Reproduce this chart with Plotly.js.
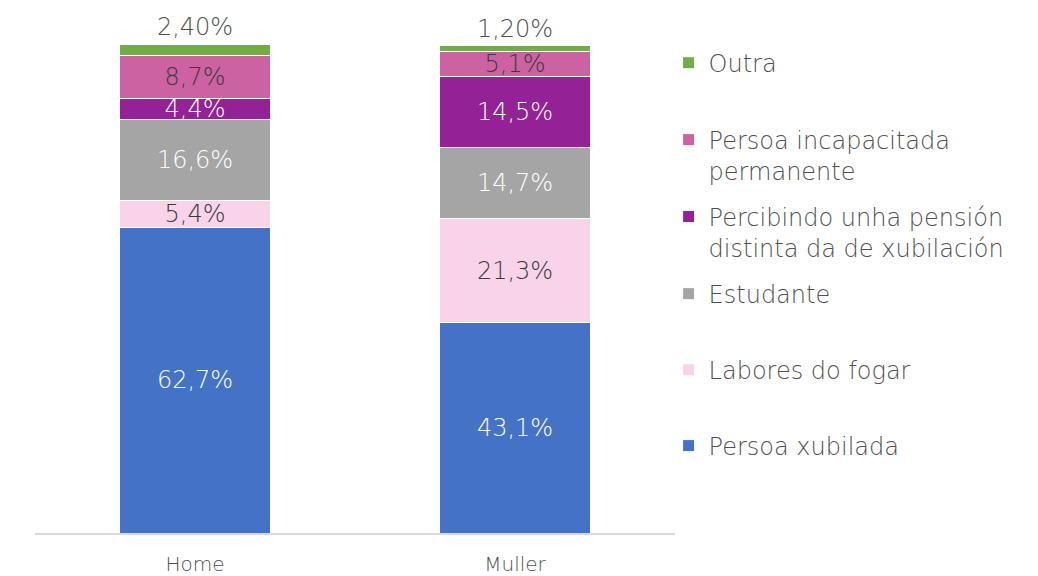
<!DOCTYPE html>
<html><head><meta charset="utf-8">
<script src="https://cdn.plot.ly/plotly-3.0.1.min.js"></script>
<style>body{margin:0;background:#fff}#c{width:1038px;height:576px}</style>
</head><body><div id="c"></div>
<script>
const categories = ["Home", "Muller"];
const persoaXubilada = [62.7, 43.1];
const laboresDoFogar = [5.4, 21.3];
const estudante = [16.6, 14.7];
const percibindoPension = [4.4, 14.5];
const persoaIncapacitada = [8.7, 5.1];
const outra = [2.4, 1.2];
const seriesNames = ["Persoa xubilada", "Labores do fogar", "Estudante",
  "Percibindo unha pensión<br>distinta da de xubilación", "Persoa incapacitada<br>permanente", "Outra"];

const FONT = "'DejaVu Sans', sans-serif";
const W = 200;
const GRAY = "#505050";
const colors = ["#4472C4", "#F8D3E9", "#A5A5A5", "#952196", "#CD62A2", "#70AD47"];
const textColors = ["#FFFFFF", "#3A3A3A", "#FFFFFF", "#FFFFFF", "#3A3A3A", GRAY];
const values = [persoaXubilada, laboresDoFogar, estudante, percibindoPension, persoaIncapacitada, outra];
const legendIds = ["legend6", "legend5", "legend4", "legend3", "legend2", "legend"];

const traces = values.map((v, i) => ({
  type: "bar", x: categories, y: v, name: seriesNames[i],
  legend: legendIds[i],
  marker: {color: colors[i], line: {color: "#FFFFFF", width: 1}},
  width: 0.47,
  texttemplate: i === 5 ? "%{y:.2f}%" : "%{y:.1f}%",
  textposition: i === 5 ? "outside" : "inside",
  insidetextanchor: "middle",
  constraintext: "none",
  cliponaxis: false,
  textfont: {family: FONT, size: 24, color: textColors[i], weight: W},
  insidetextfont: {family: FONT, size: 24, color: textColors[i], weight: W},
  outsidetextfont: {family: FONT, size: 24, color: GRAY, weight: W},
  hoverinfo: "skip"
}));

function leg(y) {
  return {x: 0.99, xanchor: "left", y: y + 0.0104, yanchor: "top", valign: "top",
    bgcolor: "rgba(0,0,0,0)", font: {family: FONT, size: 24, color: GRAY, weight: W}};
}

const layout = {
  width: 1038, height: 576,
  margin: {l: 35, r: 363, t: 10, b: 43},
  paper_bgcolor: "#fff", plot_bgcolor: "#fff",
  barmode: "stack",
  separators: ",.",
  showlegend: true,
  legend: leg(0.931), legend2: leg(0.784), legend3: leg(0.637),
  legend4: leg(0.4895), legend5: leg(0.344), legend6: leg(0.199),
  xaxis: {type: "category", showline: true, linecolor: "#D9D9D9", linewidth: 2,
    ticks: "", ticklabelstandoff: 12,
    tickfont: {family: FONT, size: 20, color: GRAY, weight: W}, fixedrange: true},
  yaxis: {range: [0, 107.2], visible: false, showgrid: false, zeroline: false, fixedrange: true}
};

Plotly.newPlot("c", traces, layout, {staticPlot: true});
</script>
</body></html>
